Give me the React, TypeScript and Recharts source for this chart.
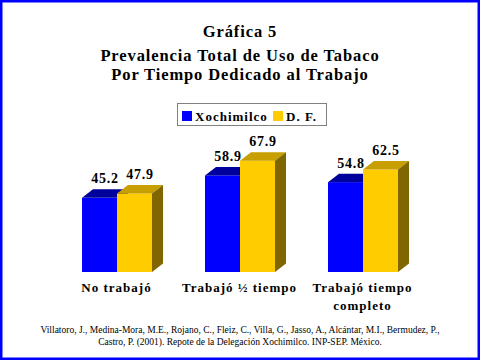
import React from "react";
import { BarChart, Bar, XAxis, YAxis, LabelList } from "recharts";

const categories = ["No trabajó", "Trabajó ½ tiempo", "Trabajó tiempo\ncompleto"];
const xochimilco = [45.2, 58.9, 54.8];
const df = [47.9, 67.9, 62.5];
const seriesNames = ["Xochimilco", "D. F."];

const titleLines = [
  "Gráfica 5",
  "Prevalencia Total de Uso de Tabaco",
  "Por Tiempo Dedicado al Trabajo",
];
const sourceLines = [
  "Villatoro, J., Medina-Mora, M.E., Rojano, C., Fleiz, C., Villa, G., Jasso, A., Alcántar, M.I., Bermudez, P.,",
  "Castro, P. (2001). Repote de la Delegación Xochimilco. INP-SEP. México.",
];

const data = categories.map((name, i) => ({
  name,
  xochimilco: xochimilco[i],
  df: df[i],
}));

const serif = "'Liberation Serif', 'Times New Roman', serif";
const DX = 11;
const DY = 8.5;

const blue = { front: "#0000ff", top: "#00009c", side: "#000080" };
const gold = { front: "#ffcc00", top: "#c89f00", side: "#806600" };

const make3D = (c: typeof blue) => (props: any) => {
  const { x, y, width: w, height: h } = props;
  if (h == null || h <= 0) return null;
  return (
    <g>
      <rect x={x} y={y} width={w} height={h} fill={c.front} />
      <polygon
        points={`${x},${y} ${x + DX},${y - DY} ${x + w + DX},${y - DY} ${x + w},${y}`}
        fill={c.top}
      />
      <polygon
        points={`${x + w},${y} ${x + w + DX},${y - DY} ${x + w + DX},${y + h - DY} ${x + w},${y + h}`}
        fill={c.side}
      />
    </g>
  );
};

const valueLabel = (props: any) => {
  const { x, y, width, value } = props;
  return (
    <text
      x={x + width / 2 + DX / 2}
      y={y - DY - 6}
      textAnchor="middle"
      fontFamily={serif}
      fontWeight="bold"
      fontSize={14}
      letterSpacing={0.8}
      fill="#000"
    >
      {value}
    </text>
  );
};

const CategoryTick = (props: any) => {
  const { x, y, payload } = props;
  const lines = String(payload.value).split("\n");
  return (
    <g>
      {lines.map((l, i) => (
        <text
          key={i}
          x={x}
          y={y + 12 + i * 17.6}
          textAnchor="middle"
          fontFamily={serif}
          fontWeight="bold"
          fontSize={13}
          letterSpacing={1}
          fill="#000"
        >
          {l}
        </text>
      ))}
    </g>
  );
};

export default function App() {
  return (
    <div style={{ position: "absolute", left: 0, top: 0, width: 480, height: 360, background: "#fff" }}>
      <BarChart
        width={480}
        height={360}
        data={data}
        barGap={0}
        barSize={35}
        margin={{ top: 108, right: 56, bottom: 58, left: 55 }}
      >
        <XAxis dataKey="name" axisLine={false} tickLine={false} height={30} tick={<CategoryTick />} interval={0} />
        <YAxis hide domain={[0, 100]} />
        <Bar dataKey="xochimilco" name={seriesNames[0]} shape={make3D(blue)} isAnimationActive={false}>
          <LabelList dataKey="xochimilco" content={valueLabel} />
        </Bar>
        <Bar dataKey="df" name={seriesNames[1]} shape={make3D(gold)} isAnimationActive={false}>
          <LabelList dataKey="df" content={valueLabel} />
        </Bar>
      </BarChart>
      <svg width={480} height={360} style={{ position: "absolute", left: 0, top: 0, pointerEvents: "none" }}>
        <rect x={1.25} y={1.25} width={477.5} height={357.5} fill="none" stroke="#0000ff" strokeWidth={2.5} />
        {titleLines.map((t, i) => (
          <text
            key={t}
            x={240}
            y={[37.3, 60.7, 80][i]}
            textAnchor="middle"
            fontFamily={serif}
            fontWeight="bold"
            fontSize={16.5}
            letterSpacing={0.9}
            fill="#000"
          >
            {t}
          </text>
        ))}
        <rect x={177.5} y={103.5} width={149} height={22} fill="#fff" stroke="#808080" strokeWidth={1} />
        <rect x={182} y={111} width={10} height={10} fill={blue.front} />
        <text x={195} y={121} fontFamily={serif} fontWeight="bold" fontSize={13} letterSpacing={1} fill="#000">
          {seriesNames[0]}
        </text>
        <rect x={273} y={111} width={10} height={10} fill={gold.front} />
        <text x={286} y={121} fontFamily={serif} fontWeight="bold" fontSize={13} letterSpacing={1} fill="#000">
          {seriesNames[1]}
        </text>
        {sourceLines.map((t, i) => (
          <text key={i} x={240} y={333 + i * 11.5} textAnchor="middle" fontFamily={serif} fontSize={9.5} fill="#000">
            {t}
          </text>
        ))}
      </svg>
    </div>
  );
}
